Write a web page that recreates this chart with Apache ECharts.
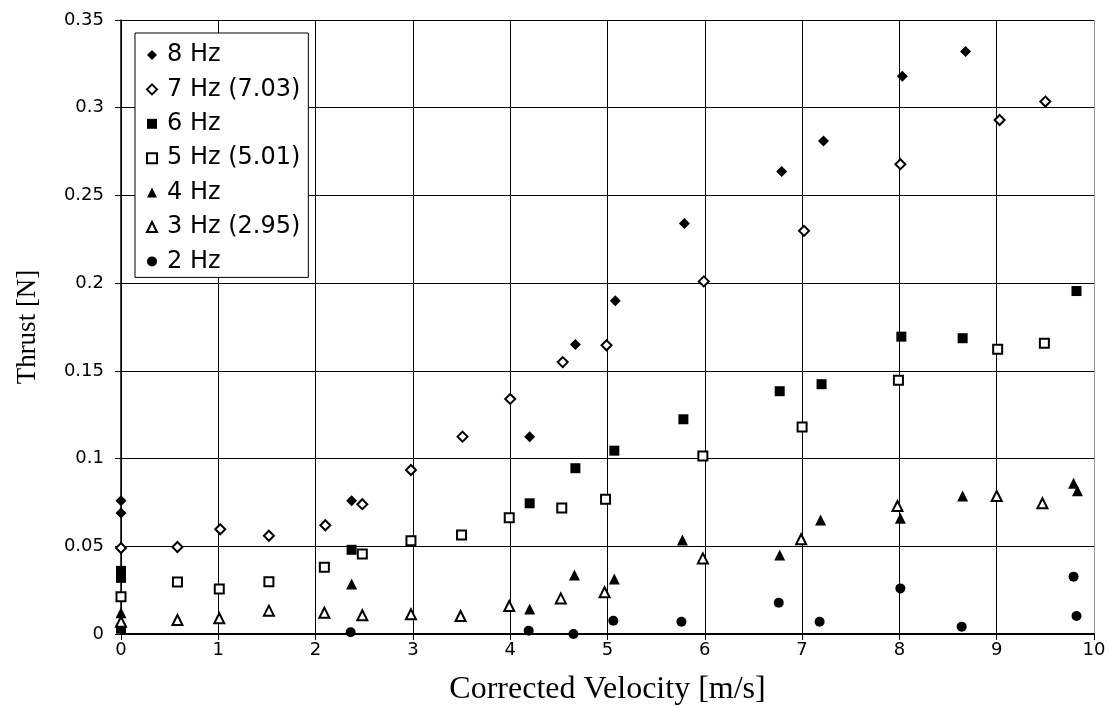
<!DOCTYPE html>
<html>
<head>
<meta charset="utf-8">
<script src="https://cdn.jsdelivr.net/npm/echarts@6/dist/echarts.min.js"></script>
<style>html,body{margin:0;padding:0;background:#fff}#c{width:1109px;height:706px}</style>
</head>
<body>
<div id="c"></div>
<script>
const xTicks = [0,1,2,3,4,5,6,7,8,9,10];
const yTicks = [0,0.05,0.1,0.15,0.2,0.25,0.3,0.35];
const seriesNames = ['8 Hz','7 Hz (7.03)','6 Hz','5 Hz (5.01)','4 Hz','3 Hz (2.95)','2 Hz'];

const hz8 = [[0,0.076],[0,0.069],[2.37,0.076],[4.20,0.1125],[4.67,0.165],[5.08,0.190],[5.79,0.234],[6.79,0.2636],[7.22,0.281],[8.03,0.318],[8.68,0.332]];
const hz7 = [[0,0.049],[0.58,0.0496],[1.02,0.0597],[1.52,0.056],[2.10,0.062],[2.48,0.074],[2.98,0.0935],[3.51,0.1125],[4.00,0.134],[4.54,0.155],[4.99,0.1646],[5.99,0.201],[7.02,0.2298],[8.01,0.2678],[9.03,0.293],[9.50,0.3035]];
const hz6 = [[0,0.036],[0,0.032],[0,0.003],[2.37,0.048],[4.20,0.0745],[4.67,0.0945],[5.07,0.1045],[5.78,0.1224],[6.77,0.1384],[7.20,0.1424],[8.02,0.1695],[8.65,0.1686],[9.82,0.1955]];
const hz5 = [[0,0.0213],[0.58,0.0296],[1.01,0.0257],[1.52,0.0298],[2.09,0.038],[2.48,0.0456],[2.98,0.0532],[3.50,0.0564],[3.99,0.0663],[4.53,0.0718],[4.98,0.0768],[5.98,0.1015],[7.00,0.118],[7.99,0.1446],[9.01,0.1623],[9.49,0.1657]];
const hz4 = [[0,0.0121],[2.37,0.0285],[4.20,0.0143],[4.66,0.0336],[5.07,0.0314],[5.77,0.0536],[6.77,0.045],[7.19,0.065],[8.01,0.066],[8.65,0.0787],[9.79,0.0859],[9.83,0.0817]];
const hz3 = [[0,0.007],[0.58,0.008],[1.01,0.009],[1.52,0.0133],[2.09,0.0121],[2.48,0.0107],[2.98,0.0112],[3.49,0.0103],[3.99,0.016],[4.52,0.0203],[4.97,0.0238],[5.98,0.0431],[6.99,0.054],[7.98,0.073],[9.00,0.0787],[9.47,0.0745]];
const hz2 = [[2.36,0.001],[4.19,0.0019],[4.65,0.0],[5.06,0.0076],[5.76,0.007],[6.76,0.0178],[7.18,0.007],[8.01,0.026],[8.64,0.0042],[9.79,0.0327],[9.82,0.0103]];

const dataList = [hz8,hz7,hz6,hz5,hz4,hz3,hz2];
const symbols = ['diamond','diamond','rect','rect','triangle','triangle','circle'];
const sizes = [11,10,10,9,11,10,10];
const filled = [true,false,true,false,true,false,true];

const chart = echarts.init(document.getElementById('c'), null, {renderer:'canvas'});
const series = dataList.map((d,i)=>({
  name: seriesNames[i],
  type: 'scatter',
  data: d,
  symbol: symbols[i],
  symbolSize: sizes[i],
  itemStyle: filled[i] ? {color:'#000', borderWidth:0, opacity:1}
                      : {color:'#fff', borderColor:'#000', borderWidth:2, opacity:1},
  emphasis:{disabled:true},
  z: 3
}));

chart.setOption({
  animation:false,
  backgroundColor:'#fff',
  grid:{left:121, right:15, top:20, bottom:72, show:false, containLabel:false, outerBoundsMode:'none'},
  legend:{
    orient:'vertical', left:135, top:33,
    backgroundColor:'#fff', borderColor:'#000', borderWidth:1,
    padding:[8,8,2,11],
    itemWidth:10, itemHeight:10, itemGap:6.4,
    textStyle:{fontFamily:'DejaVu Sans, sans-serif', fontSize:24, color:'#000', lineHeight:28, padding:[0,0,0,5]},
    data: seriesNames.map((n,i)=>({name:n})),
    selectedMode:false
  },
  xAxis:{
    type:'value', min:0, max:10, interval:1,
    name:'Corrected Velocity [m/s]', nameLocation:'middle', nameGap:40,
    nameTextStyle:{fontFamily:'Liberation Serif, Times New Roman, serif', fontSize:32, color:'#000'},
    axisLine:{show:true, onZero:false, lineStyle:{color:'#000', width:2}},
    axisTick:{show:true, length:6, inside:false, lineStyle:{color:'#000'}},
    axisLabel:{fontFamily:'DejaVu Sans, sans-serif', fontSize:18, color:'#000', margin:7,
      formatter:v=>String(xTicks[Math.round(v)])},
    splitLine:{show:true, lineStyle:{color:['#000','#000','#000','#000','#000','#000','#000','#000','#000','#000','#999'], width:1}}
  },
  yAxis:{
    type:'value', min:0, max:0.35, interval:0.05,
    name:'Thrust [N]', nameLocation:'middle', nameGap:80,
    nameTextStyle:{fontFamily:'Liberation Serif, Times New Roman, serif', fontSize:27, color:'#000'},
    axisLine:{show:true, onZero:false, lineStyle:{color:'#000', width:1.5}},
    axisTick:{show:true, length:6, lineStyle:{color:'#000'}},
    axisLabel:{fontFamily:'DejaVu Sans, sans-serif', fontSize:18, color:'#000', margin:17,
      formatter:v=>{const t=yTicks[Math.round(v/0.05)]; return String(t);}},
    splitLine:{show:true, lineStyle:{color:'#000', width:1}}
  },
  series: series
});
</script>
</body>
</html>
